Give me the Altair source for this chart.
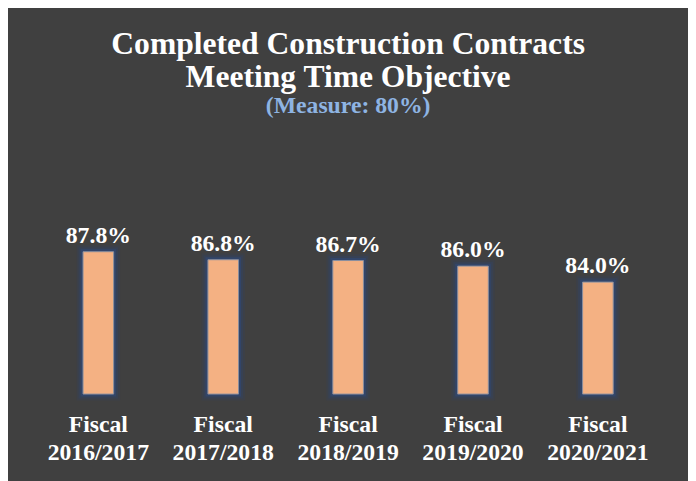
import altair as alt
import pandas as pd

categories = ["Fiscal 2016/2017", "Fiscal 2017/2018", "Fiscal 2018/2019", "Fiscal 2019/2020", "Fiscal 2020/2021"]
values = [87.8, 86.8, 86.7, 86.0, 84.0]
title_lines = ["Completed Construction Contracts", "Meeting Time Objective"]
subtitle = "(Measure: 80%)"

df = pd.DataFrame({"category": categories, "value": values})

FONT = "Liberation Serif"
BG = "#404040"

x = alt.X("category:N", sort=categories,
          scale=alt.Scale(paddingInner=0.755, paddingOuter=0.3775),
          axis=alt.Axis(title=None, labelAngle=0, ticks=False, domain=False, grid=False,
                        labelExpr="split(datum.label, ' ')",
                        labelFont=FONT, labelFontSize=24, labelFontWeight="bold",
                        labelColor="white", labelLineHeight=28, labelPadding=19))
y = alt.Y("value:Q", scale=alt.Scale(domain=[70, 100], nice=False, zero=False), axis=None)

base = alt.Chart(df).encode(x=x, y=y, y2=alt.datum(70))

glow0 = base.mark_bar(width=31, fill="#2E4470", fillOpacity=0.0, stroke="#2E4470",
                      strokeWidth=13, strokeOpacity=0.18)
glow1 = base.mark_bar(width=31, fill="#2E4470", fillOpacity=0.0, stroke="#2E4470",
                      strokeWidth=9, strokeOpacity=0.3)
glow2 = base.mark_bar(width=31, fill="#2E4470", fillOpacity=0.0, stroke="#30497A",
                      strokeWidth=5, strokeOpacity=0.55)
bars = base.mark_bar(width=31, fill="#F4B183", stroke="#8A8FA0", strokeWidth=1)

labels = alt.Chart(df).transform_calculate(
    label="format(datum.value, '.1f') + '%'"
).mark_text(baseline="alphabetic", dy=-9, font=FONT, fontSize=24, fontWeight="bold",
            color="white").encode(x=x, y=y, text="label:N")

chart = alt.layer(glow0, glow1, glow2, bars, labels).properties(
    width=632.5, height=243,
    padding={"left": 28.25, "top": 145, "right": 28, "bottom": 85},
    autosize=alt.AutoSizeParams(type="none"),
    background=BG,
    title=alt.TitleParams(text=title_lines, subtitle=subtitle, anchor="middle",
                          font=FONT, fontSize=32, fontWeight="bold", color="white",
                          lineHeight=33, subtitleFont=FONT, subtitleFontSize=24,
                          subtitleFontWeight="bold", subtitleColor="#8EB4E3",
                          subtitlePadding=0, offset=36)
).configure_view(stroke=None)

chart.save("out.html", embed_options={"renderer": "svg", "actions": False})
